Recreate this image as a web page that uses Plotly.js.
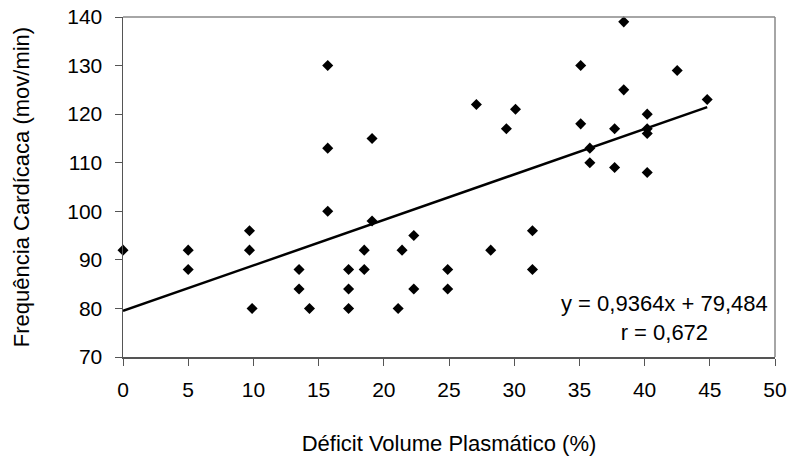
<!DOCTYPE html>
<html>
<head>
<meta charset="utf-8">
<script src="https://cdn.plot.ly/plotly-3.0.1.min.js"></script>
<style>html,body{margin:0;padding:0;background:#fff;}#chart{width:789px;height:461px;}</style>
</head>
<body>
<div id="chart"></div>
<script>
// Déficit Volume Plasmático (%)
const deficit = [
  0, 5, 5, 9.7, 9.7, 9.9, 13.5, 13.5, 14.3, 15.7, 15.7, 15.7,
  17.3, 17.3, 17.3, 18.5, 18.5, 19.1, 19.1, 21.1, 21.4, 22.3, 22.3,
  24.9, 24.9, 27.1, 28.2, 29.4, 30.1, 31.4, 31.4,
  35.1, 35.1, 35.8, 35.8, 37.7, 37.7, 38.4, 38.4,
  40.2, 40.2, 40.2, 40.2, 42.5, 44.8
];
// Frequência Cardíaca (mov/min)
const freq = [
  92, 92, 88, 96, 92, 80, 88, 84, 80, 130, 113, 100,
  88, 84, 80, 92, 88, 115, 98, 80, 92, 95, 84,
  88, 84, 122, 92, 117, 121, 96, 88,
  130, 118, 113, 110, 117, 109, 139, 125,
  120, 117, 116, 108, 129, 123
];
// Regression (from the chart's equation)
const slope = 0.9364;
const intercept = 79.484;
const eqLabel = "y = 0,9364x + 79,484<br>r = 0,672";
const xTicks = [0, 5, 10, 15, 20, 25, 30, 35, 40, 45, 50];
const yTicks = [70, 80, 90, 100, 110, 120, 130, 140];

const xMin = Math.min(...deficit), xMax = Math.max(...deficit);
const lineX = [xMin, xMax];
const lineY = lineX.map(v => slope * v + intercept);

const font = "'Liberation Sans', Arial, sans-serif";

const traces = [
  {
    x: lineX, y: lineY, type: 'scatter', mode: 'lines',
    line: {color: '#000', width: 2.5}, hoverinfo: 'skip', showlegend: false
  },
  {
    x: deficit, y: freq, type: 'scatter', mode: 'markers',
    marker: {symbol: 'diamond', size: 8.5, color: '#000'},
    cliponaxis: false, showlegend: false
  }
];

const layout = {
  width: 789, height: 461,
  margin: {l: 123, r: 14, t: 17, b: 104},
  paper_bgcolor: '#fff', plot_bgcolor: '#fff',
  font: {family: font, color: '#000', size: 21},
  showlegend: false,
  xaxis: {
    range: [0, 50], tickvals: xTicks, ticktext: xTicks.map(String),
    ticks: 'outside', ticklen: 7, tickcolor: '#555', tickwidth: 1,
    showline: true, linecolor: '#555', linewidth: 1.5,
    showgrid: false, zeroline: false, ticklabelstandoff: 6,
    tickfont: {size: 21, family: font, color: '#000'},
    title: {text: 'Déficit Volume Plasmático (%)', font: {size: 22, family: font, color: '#000'}, standoff: 36},
    automargin: false, fixedrange: true
  },
  yaxis: {
    range: [70, 140], tickvals: yTicks, ticktext: yTicks.map(String),
    ticks: 'outside', ticklen: 7, tickcolor: '#555', tickwidth: 1,
    showline: true, linecolor: '#555', linewidth: 1.5,
    showgrid: false, zeroline: false, ticklabelstandoff: 8,
    tickfont: {size: 21, family: font, color: '#000'},
    title: {text: 'Frequência Cardícaca (mov/min)', font: {size: 22, family: font, color: '#000'}, standoff: 31},
    automargin: false, fixedrange: true
  },
  shapes: [
    {type: 'line', xref: 'paper', yref: 'paper', x0: 0, x1: 1, y0: 1, y1: 1, line: {color: '#888', width: 1.5}},
    {type: 'line', xref: 'paper', yref: 'paper', x0: 1, x1: 1, y0: 0, y1: 1, line: {color: '#888', width: 1.5}}
  ],
  annotations: [
    {
      xref: 'x', yref: 'y', x: 41.5, y: 78.0, text: eqLabel, showarrow: false,
      align: 'center', xanchor: 'center', yanchor: 'middle',
      font: {size: 22, family: font, color: '#000'}
    }
  ]
};

Plotly.newPlot('chart', traces, layout, {displayModeBar: false, staticPlot: true});
</script>
</body>
</html>
